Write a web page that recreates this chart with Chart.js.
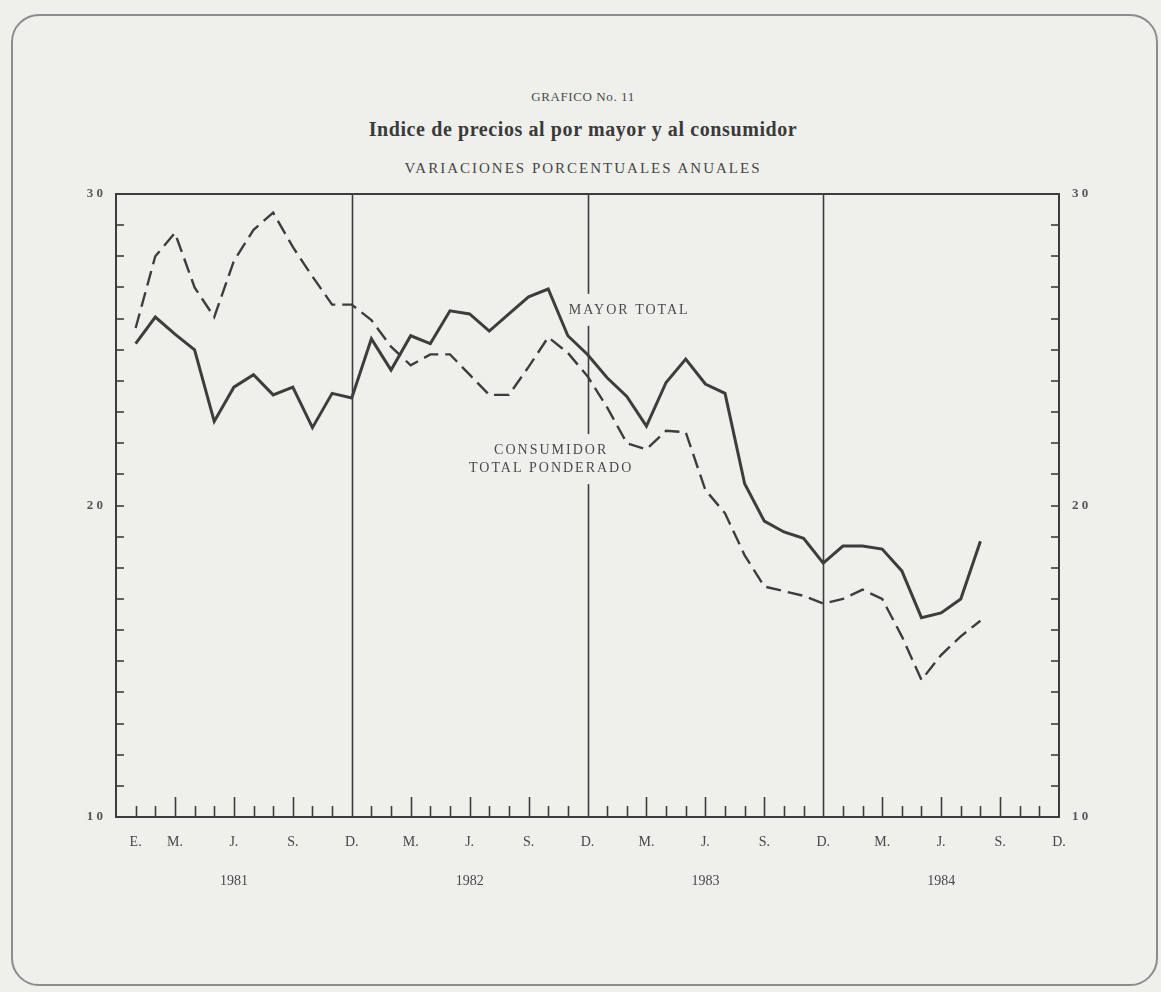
<!DOCTYPE html>
<html>
<head>
<meta charset="utf-8">
<title>Grafico No. 11</title>
<script src="https://cdn.jsdelivr.net/npm/chart.js@4.4.0/dist/chart.umd.min.js"></script>
<style>
    html, body { margin: 0; padding: 0; background: #efefec; }
    body { width: 1161px; height: 992px; position: relative; overflow: hidden;
           font-family: 'Liberation Serif', 'DejaVu Serif', serif; color: #474747; }
    #frame { position: absolute; left: 11px; top: 14px; width: 1143px; height: 968px;
             border: 2px solid #8c8c8c; border-radius: 28px; }
    .t { position: absolute; left: 0; width: 1166px; text-align: center; white-space: nowrap; }
    #sup { top: 89px; font-size: 13px; letter-spacing: 0.6px; color: #4a4a4a; }
    #ttl { top: 118px; font-size: 20px; font-weight: bold; letter-spacing: 0.6px; color: #3a3a3a; }
    #sub { top: 160px; font-size: 15px; letter-spacing: 2px; }
    canvas { position: absolute; left: 0; top: 0; }
</style>
</head>
<body>
<div id="frame"></div>
<div class="t" id="sup">GRAFICO No. 11</div>
<div class="t" id="ttl">Indice de precios al por mayor y al consumidor</div>
<div class="t" id="sub">VARIACIONES PORCENTUALES ANUALES</div>
<canvas id="chart" width="1161" height="992"></canvas>
<script>
// x index 0 = Dic. 1980, 1 = Ene. 1981 ... 48 = Dic. 1984
const monthMarks = ['', 'E.', '', 'M.', '', '', 'J.', '', '', 'S.', '', '', 'D.',
                    '', '', 'M.', '', '', 'J.', '', '', 'S.', '', '', 'D.',
                    '', '', 'M.', '', '', 'J.', '', '', 'S.', '', '', 'D.',
                    '', '', 'M.', '', '', 'J.', '', '', 'S.', '', '', 'D.'];
const years = ['1981', '1982', '1983', '1984'];

// Variaciones porcentuales anuales, Ene. 1981 - Ago. 1984
const mayorTotal = [
    25.2, 26.05, 25.5, 25.0, 22.7, 23.8, 24.2, 23.55, 23.8, 22.5, 23.6, 23.45,
    25.35, 24.35, 25.45, 25.2, 26.25, 26.15, 25.6, 26.15, 26.7, 26.95, 25.45, 24.85,
    24.1, 23.5, 22.55, 23.95, 24.7, 23.9, 23.6, 20.7, 19.5, 19.15, 18.95, 18.15,
    18.7, 18.7, 18.6, 17.9, 16.4, 16.55, 17.0, 18.85
];
const consumidor = [
    25.7, 28.0, 28.75, 27.0, 26.05, 27.85, 28.85, 29.4, 28.3, 27.35, 26.45, 26.45,
    25.95, 25.1, 24.5, 24.85, 24.85, 24.2, 23.55, 23.55, 24.45, 25.4, 24.9, 24.15,
    23.15, 22.0, 21.8, 22.4, 22.35, 20.5, 19.75, 18.4, 17.4, 17.25, 17.1, 16.85,
    17.0, 17.3, 17.0, 15.8, 14.4, 15.2, 15.8, 16.3
];

const yTickValues = [10, 20, 30];

const INK = '#3d3d3d';
const PAPER = '#efefec';
const SERIF = "'Liberation Serif', 'DejaVu Serif', serif";

const toPoints = arr => arr.map((v, i) => ({ x: i + 1, y: v }));

/**
 * Frame, inward ticks, December lines and series labels
 */
const decor = {
    id: 'decor',
    beforeDatasetsDraw(chart) {
        const { ctx, chartArea: a, scales: { x, y } } = chart;
        ctx.save();
        ctx.strokeStyle = INK;

        const seg = (x1, y1, x2, y2) => {
            ctx.beginPath();
            ctx.moveTo(x1, y1);
            ctx.lineTo(x2, y2);
            ctx.stroke();
        };

        // y ticks, every unit, both sides
        ctx.lineWidth = 1.6;
        for (let v = 11; v < 30; v++) {
            const py = Math.round(y.getPixelForValue(v));
            seg(a.left, py, a.left + 8, py);
            seg(a.right - 8, py, a.right, py);
        }

        // month ticks, longer at quarters, full line at December
        for (let i = 1; i < 48; i++) {
            const px = Math.round(x.getPixelForValue(i)) + 0.5;
            if (i % 12 === 0) {
                seg(px, a.top, px, a.bottom);
            } else {
                seg(px, a.bottom, px, a.bottom - (i % 3 === 0 ? 20 : 11));
            }
        }

        // box
        ctx.lineWidth = 2;
        ctx.strokeRect(a.left, a.top, a.width, a.height);

        // series labels (mask the December line behind them)
        ctx.font = '14px ' + SERIF;
        ctx.letterSpacing = '2px';
        ctx.textBaseline = 'middle';
        const labels = [
            { text: 'MAYOR TOTAL', x: 23.05, y: 26.28, align: 'left' },
            { text: 'CONSUMIDOR', x: 22.15, y: 21.78, align: 'center' },
            { text: 'TOTAL PONDERADO', x: 22.15, y: 21.2, align: 'center' }
        ];
        labels.forEach(l => {
            const px = x.getPixelForValue(l.x);
            const py = y.getPixelForValue(l.y);
            const w = ctx.measureText(l.text).width;
            const left = l.align === 'left' ? px : px - w / 2;
            ctx.fillStyle = PAPER;
            ctx.fillRect(left - 3, py - 16, w + 6, 32);
        });
        labels.forEach(l => {
            const px = x.getPixelForValue(l.x);
            const py = y.getPixelForValue(l.y);
            ctx.fillStyle = '#4a4a4a';
            ctx.textAlign = l.align;
            ctx.fillText(l.text, px, py);
        });
        ctx.restore();
    }
};

const yAxis = (position, width) => ({
    type: 'linear',
    position: position,
    min: 10,
    max: 30,
    afterBuildTicks: scale => { scale.ticks = yTickValues.map(v => ({ value: v })); },
    afterFit: scale => { scale.width = width; },
    grid: { display: false, drawTicks: false },
    border: { display: false },
    ticks: {
        padding: 13,
        color: '#555',
        font: { family: SERIF, size: 13, weight: 'bold' },
        callback: v => String(v).split('').join(' ')
    }
});

new Chart(document.getElementById('chart'), {
    type: 'line',
    data: {
        datasets: [
            {
                label: 'MAYOR TOTAL',
                data: toPoints(mayorTotal),
                borderColor: INK,
                borderWidth: 3,
                pointRadius: 0,
                tension: 0,
                fill: false
            },
            {
                label: 'CONSUMIDOR TOTAL PONDERADO',
                data: toPoints(consumidor),
                borderColor: INK,
                borderWidth: 2.4,
                borderDash: [15, 7],
                pointRadius: 0,
                tension: 0,
                fill: false
            }
        ]
    },
    options: {
        responsive: false,
        animation: false,
        layout: { padding: { top: 194, left: 0, right: 42, bottom: 0 } },
        plugins: {
            legend: { display: false },
            tooltip: { enabled: false }
        },
        scales: {
            x: {
                type: 'linear',
                min: 0,
                max: 48,
                afterBuildTicks: scale => {
                    scale.ticks = monthMarks.map((m, i) => ({ value: i }));
                },
                afterFit: scale => { scale.height = 175; },
                grid: { display: false, drawTicks: false },
                border: { display: false },
                ticks: {
                    autoSkip: false,
                    maxRotation: 0,
                    padding: 15,
                    color: '#474747',
                    font: { family: SERIF, size: 14, lineHeight: 1.42 },
                    callback: v => {
                        const m = monthMarks[v];
                        if (m === 'J.') return [m, '', years[(v - 6) / 12]];
                        return m;
                    }
                }
            },
            y: yAxis('left', 116),
            y2: yAxis('right', 60)
        }
    },
    plugins: [decor]
});
</script>
</body>
</html>
